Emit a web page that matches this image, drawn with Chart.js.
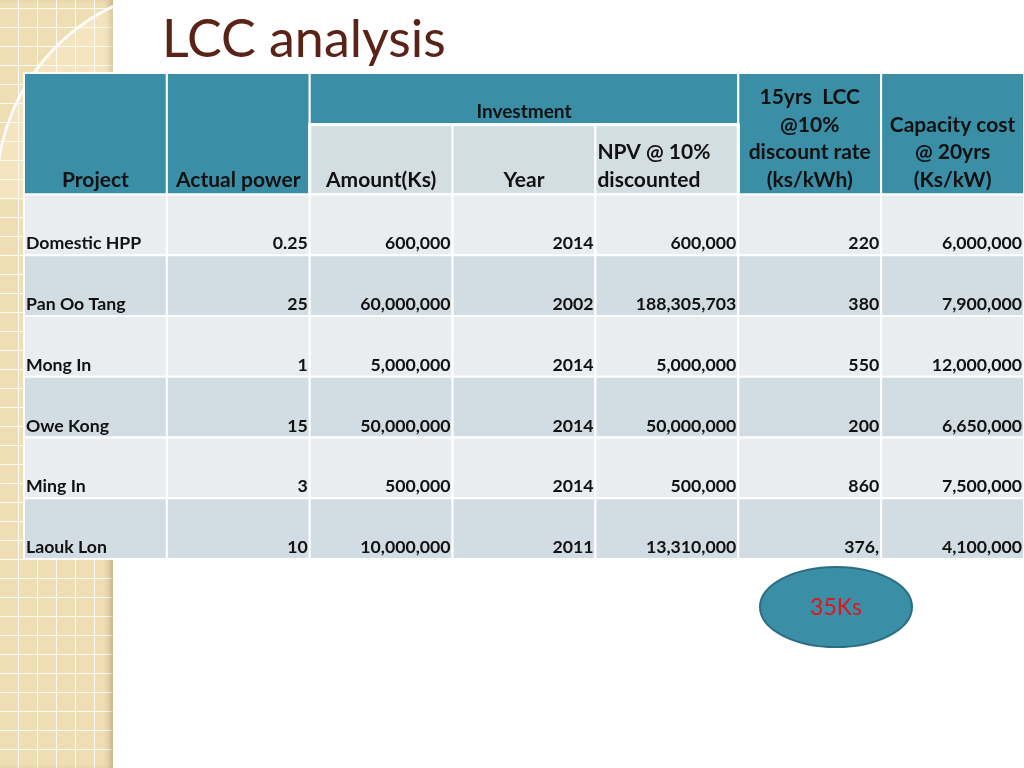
<!DOCTYPE html>
<html>
<head>
<meta charset="utf-8">
<script src="https://cdn.jsdelivr.net/npm/chart.js@4"></script>
<style>
  body { margin: 0; background: #fff; }
  #page { position: relative; width: 1024px; height: 768px; overflow: hidden; }
  #strip {
    position: absolute; left: 0; top: 0; width: 113px; height: 768px; overflow: hidden;
    background-color: #efddb3;
    background-image:
      repeating-linear-gradient(90deg, transparent 0 18px, rgba(255,255,255,0.9) 18px 19px),
      repeating-linear-gradient(0deg, transparent 0 18px, rgba(255,255,255,0.9) 18px 19px);
    box-shadow: inset -6px 0 6px -3px rgba(120,90,40,0.35);
  }
  #arcBox { position: absolute; left: 0; top: 0; width: 113px; height: 200px; overflow: hidden; }
  #arc {
    position: absolute; left: -5px; top: -15px; width: 406px; height: 406px;
    border-radius: 50%; border: 3px solid rgba(255,255,255,0.85);
    background: rgba(255,245,220,0.3);
  }
  #title {
    position: absolute; left: 162px; top: 6px; margin: 0;
    font-family: Lato, sans-serif; font-weight: 400; font-size: 52px;
    color: #5b2318;
  }
  #wrap { position: absolute; left: 0; top: 0; width: 1024px; height: 768px; }
</style>
</head>
<body>
<div id="page">
  <div id="strip"><div id="arcBox"><div id="arc"></div></div></div>
  <h1 id="title">LCC analysis</h1>
  <div id="wrap"><canvas id="tableChart"></canvas></div>
</div>
<script>
// Table data
const projects = ["Domestic HPP", "Pan Oo Tang", "Mong In", "Owe Kong", "Ming In", "Laouk Lon"];
const actualPower = [0.25, 25, 1, 15, 3, 10];
const amounts = [600000, 60000000, 5000000, 50000000, 500000, 10000000];
const years = ["2014", "2002", "2014", "2014", "2014", "2011"];
const npvDiscounted = [600000, 188305703, 5000000, 50000000, 500000, 13310000];
const lcc15 = ["220", "380", "550", "200", "860", "376,"];
const capacityCost = [6000000, 7900000, 12000000, 6650000, 7500000, 4100000];
const calloutText = "35Ks";

const fmt = (v) => v.toLocaleString("en-US");

const teal = "#3a8ea6";
const rowLight = "#e9edf0";
const rowDark = "#d1dde2";
const subHead = "#d3dee3";
const headFont = "bold 21px Lato, 'Open Sans', sans-serif";
const cellFont = "bold 17.7px Lato, 'Open Sans', sans-serif";

// one entry per table column
const columns = [
  projects,
  actualPower.map(fmt),
  amounts.map(fmt),
  years,
  npvDiscounted.map(fmt),
  lcc15,
  capacityCost.map(fmt),
];

const tablePlugin = {
  id: "tablePlugin",
  beforeDatasetsDraw(chart) {
    const ctx = chart.ctx;
    const xs = chart.scales.x;
    const ys = chart.scales.y;
    const px = (v) => xs.getPixelForValue(v);
    const py = (v) => ys.getPixelForValue(v);

    const cell = (c0, c1, r0, r1, color, lw) => {
      const x0 = px(c0), x1 = px(c1), y0 = py(r0), y1 = py(r1);
      ctx.fillStyle = color;
      ctx.fillRect(x0, y0, x1 - x0, y1 - y0);
      ctx.strokeStyle = "#ffffff";
      ctx.lineWidth = lw || 2;
      ctx.strokeRect(x0, y0, x1 - x0, y1 - y0);
    };
    const text = (str, xv, yPix, align, font, color) => {
      ctx.font = font;
      ctx.fillStyle = color || "#111";
      ctx.textAlign = align;
      ctx.textBaseline = "alphabetic";
      ctx.fillText(str, xv, yPix);
    };

    ctx.save();
    // header cells
    const split = 0.85;
    cell(0, 1, 0, 2, teal);
    cell(1, 2, 0, 2, teal);
    cell(2, 5, 0, split, teal);
    cell(5, 6, 0, 2, teal);
    cell(6, 7, 0, 2, teal);
    cell(2, 3, split, 2, subHead);
    cell(3, 4, split, 2, subHead);
    cell(4, 5, split, 2, subHead);
    ctx.strokeStyle = "#ffffff";
    ctx.lineWidth = 3;
    ctx.strokeRect(px(2), py(split), px(5) - px(2), py(2) - py(split));

    // data cells
    for (let r = 0; r < projects.length; r++) {
      const color = r % 2 === 0 ? rowLight : rowDark;
      for (let c = 0; c < columns.length; c++) {
        cell(c, c + 1, 2 + r, 3 + r, color);
      }
    }

    // header texts
    const hb = py(2) - 8;
    const mid = (a, b) => (px(a) + px(b)) / 2;
    text("Project", mid(0, 1), hb, "center", headFont);
    text("Actual power", mid(1, 2), hb, "center", headFont);
    text("Amount(Ks)", mid(2, 3), hb, "center", headFont);
    text("Year", mid(3, 4), hb, "center", headFont);
    text("NPV @ 10%", px(4) + 2, hb - 27.5, "left", headFont);
    text("discounted", px(4) + 2, hb, "left", headFont);
    text("Investment", mid(2, 5), py(0) + 45, "center", "bold 19px Lato, 'Open Sans', sans-serif");
    ["15yrs  LCC", "@10%", "discount rate", "(ks/kWh)"].forEach((s, i) =>
      text(s, mid(5, 6), hb - 27.5 * (3 - i), "center", headFont));
    ["Capacity cost", "@ 20yrs", "(Ks/kW)"].forEach((s, i) =>
      text(s, mid(6, 7), hb - 27.5 * (2 - i), "center", headFont));

    // data texts
    for (let r = 0; r < projects.length; r++) {
      const base = py(3 + r) - 6;
      for (let c = 0; c < columns.length; c++) {
        if (c === 0) text(columns[c][r], px(0) + 2, base, "left", cellFont);
        else text(columns[c][r], px(c + 1) - 2, base, "right", cellFont);
      }
    }

    // callout ellipse
    const cx = px(5.684), cy = py(8.79);
    const rx = px(5.684 + 0.532) - cx, ry = py(8.79 + 0.66) - cy;
    ctx.beginPath();
    ctx.ellipse(cx, cy, rx, ry, 0, 0, Math.PI * 2);
    ctx.fillStyle = teal;
    ctx.fill();
    ctx.strokeStyle = "#2b6e82";
    ctx.lineWidth = 2;
    ctx.stroke();
    ctx.font = "23px Lato, 'Open Sans', sans-serif";
    ctx.fillStyle = "#e3141c";
    ctx.textAlign = "center";
    ctx.textBaseline = "middle";
    ctx.fillText(calloutText, cx, cy + 1);
    ctx.restore();
  },
};

new Chart(document.getElementById("tableChart").getContext("2d"), {
  type: "bar",
  data: { labels: [], datasets: [] },
  options: {
    responsive: true,
    maintainAspectRatio: false,
    animation: false,
    events: [],
    layout: { padding: { left: 24, top: 73, right: 0, bottom: 209 } },
    plugins: { legend: { display: false }, tooltip: { enabled: false } },
    scales: {
      x: { type: "linear", min: 0, max: 7, offset: false, display: false },
      y: { type: "linear", min: 0, max: 8, reverse: true, offset: false, display: false },
    },
  },
  plugins: [tablePlugin],
});
</script>
</body>
</html>
